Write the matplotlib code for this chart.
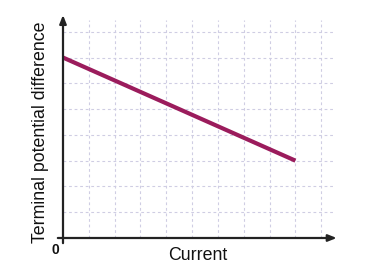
#!/usr/bin/python3

import matplotlib
import matplotlib.pyplot as plt

matplotlib.use("Agg")

# line end points (grid units)
current = [0, 9]
terminal_pd = [7, 3]

grid_x = [1, 2, 3, 4, 5, 6, 7, 8, 9, 10]
grid_y = [1, 2, 3, 4, 5, 6, 7, 8]

LINE_COLOR = "#9b1c5c"
AXIS_COLOR = "#222222"
GRID_COLOR = "#cfcde3"
X_MAX = 10.6
Y_MAX = 8.65


def main():
    plt.rcParams["font.family"] = ["Liberation Sans", "DejaVu Sans"]
    fig = plt.figure(figsize=(3.72, 2.76), dpi=100)
    ax = fig.add_axes([63 / 372, 1 - 238 / 276, (336.7 - 63) / 372, (238 - 15) / 276])
    ax.set_xlim(0, X_MAX)
    ax.set_ylim(0, Y_MAX)
    ax.axis("off")

    ax.vlines(grid_x, 0, 8.45, colors=GRID_COLOR, linestyles=(0, (2.5, 2.5)), lw=0.8)
    ax.hlines(grid_y, 0, 10.5, colors=GRID_COLOR, linestyles=(0, (2.5, 2.5)), lw=0.8)

    ax.plot(current, terminal_pd, color=LINE_COLOR, lw=3.0, solid_capstyle="butt", clip_on=False)

    arrow = dict(arrowstyle="-|>,head_length=0.5,head_width=0.2", lw=1.6, color=AXIS_COLOR,
                 shrinkA=0, shrinkB=0)
    ax.annotate("", xy=(X_MAX, 0), xytext=(-0.2, 0), arrowprops=arrow, annotation_clip=False)
    ax.annotate("", xy=(0, Y_MAX), xytext=(0, -0.2), arrowprops=arrow, annotation_clip=False)

    fig.text(41 / 372, 1 - 132 / 276, "Terminal potential difference", rotation=90,
             ha="center", va="center", fontsize=12.8, color="#111111")
    fig.text(198 / 372, 1 - 256 / 276, "Current", ha="center", va="center",
             fontsize=12.8, color="#111111")
    fig.text(55 / 372, 1 - 250 / 276, "0", ha="center", va="center",
             fontsize=10, fontweight="bold", color="#111111")

    fig.savefig("out.png", dpi=100)


if __name__ == "__main__":
    main()
